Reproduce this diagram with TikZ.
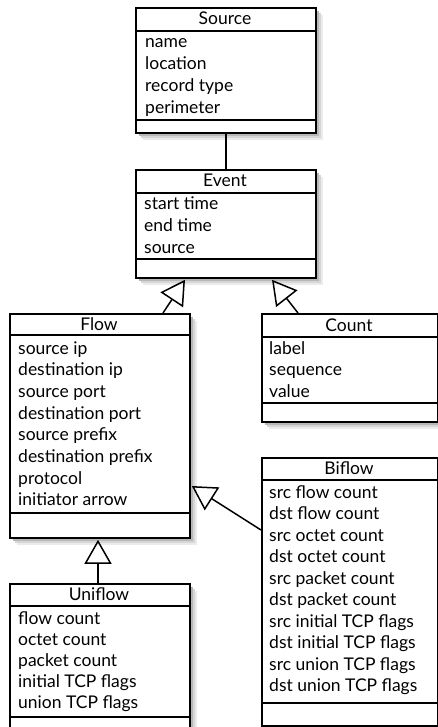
\documentclass[tikz,border=0pt]{standalone}
\usepackage{fontspec}
\setmainfont{Lato}
\usetikzlibrary{arrows.meta,calc}
\tikzset{
  umlbox/.style={draw=black, line width=1.8pt, fill=white, rectangle, anchor=north west, inner sep=0pt},
  sep/.style={line width=1.8pt},
  item/.style={anchor=base west, inner sep=0pt, font=\fontsize{17.5}{20}\selectfont},
  ttl/.style={anchor=base, inner sep=0pt, font=\fontsize{17.5}{20}\selectfont},
  inherit/.style={line width=1.5pt, -{Triangle[open, length=24pt, width=27pt, line width=1.5pt]}},
  assoc/.style={line width=1.5pt},
}
% shadow: x1, y1, x2, y2
\newcommand{\shadowbox}[4]{%
  \fill[black!8] (#1+8,#2+8) rectangle (#3+8,#4+8);
  \fill[black!16] (#1+6,#2+6) rectangle (#3+6,#4+6);
  \fill[black!28] (#1+4,#2+4) rectangle (#3+4,#4+4);
}
\begin{document}
\begin{tikzpicture}[x=1pt,y=-1pt]
\useasboundingbox (0,0) rectangle (438,727);

% ---------- Source ----------
\shadowbox{135}{7}{315}{132}
\node[umlbox, minimum width=180pt, minimum height=125pt] (source) at (135,7) {};
\draw[sep] (135,31) -- (315,31);
\draw[sep] (135,120) -- (315,120);
\node[ttl] (sourcet) at (225,25) {Source};
\foreach \t [count=\i] in {name,location,record type,perimeter}
  \node[item] (source\i) at (145,{48+21.7*(\i-1)}) {\t};

% ---------- Event ----------
\shadowbox{135}{169}{315}{277}
\node[umlbox, minimum width=180pt, minimum height=108pt] (event) at (135,169) {};
\draw[sep] (135,193) -- (315,193);
\draw[sep] (135,259) -- (315,259);
\node[ttl] (eventt) at (225,187) {Event};
\foreach \t [count=\i] in {start time,end time,source}
  \node[item] (event\i) at (144,{210+21.5*(\i-1)}) {\t};

% ---------- Flow ----------
\shadowbox{9}{313}{189}{537}
\node[umlbox, minimum width=180pt, minimum height=224pt] (flow) at (9,313) {};
\draw[sep] (9,335) -- (189,335);
\draw[sep] (9,513) -- (189,513);
\node[ttl] (flowt) at (99,330) {Flow};
\foreach \t [count=\i] in {source ip,destination ip,source port,destination port,source prefix,destination prefix,protocol,initiator arrow}
  \node[item] (flow\i) at (18,{354+21.7*(\i-1)}) {\t};

% ---------- Count ----------
\shadowbox{261}{313}{437}{421}
\node[umlbox, minimum width=176pt, minimum height=108pt] (count) at (261,313) {};
\draw[sep] (261,337) -- (437,337);
\draw[sep] (261,403) -- (437,403);
\node[ttl] (countt) at (349,331) {Count};
\foreach \t [count=\i] in {label,sequence,value}
  \node[item] (count\i) at (269,{354+21.7*(\i-1)}) {\t};

% ---------- Biflow ----------
\shadowbox{261}{457}{437}{725}
\node[umlbox, minimum width=176pt, minimum height=268pt] (biflow) at (261,457) {};
\draw[sep] (261,480) -- (437,480);
\draw[sep] (261,703) -- (437,703);
\node[ttl] (biflowt) at (349,474) {Biflow};
\foreach \t [count=\i] in {src flow count,dst flow count,src octet count,dst octet count,src packet count,dst packet count,src initial TCP flags,dst initial TCP flags,src union TCP flags,dst union TCP flags}
  \node[item] (biflow\i) at (269,{498+21.5*(\i-1)}) {\t};

% ---------- Uniflow ----------
\shadowbox{9}{583}{189}{740}
\node[umlbox, minimum width=180pt, minimum height=157pt] (uniflow) at (9,583) {};
\draw[sep] (9,606) -- (189,606);
\draw[sep] (9,717) -- (189,717);
\node[ttl] (uniflowt) at (99,600) {Uniflow};
\foreach \t [count=\i] in {flow count,octet count,packet count,initial TCP flags,union TCP flags}
  \node[item] (uniflow\i) at (18,{624+21*(\i-1)}) {\t};

% ---------- Connectors ----------
\draw[assoc] (source.south) -- (event.north);
\draw[inherit] ($(flow.north west)+(154,0)$) -- ($(event.south west)+(50,1)$);
\draw[inherit] ($(count.north west)+(37,0)$) -- ($(event.south west)+(137,1)$);
\draw[inherit] ($(uniflow.north west)+(89,0)$) -- ($(flow.south west)+(89,1)$);
\draw[inherit] ($(biflow.north west)+(0,73)$) -- ($(flow.north east)+(1,173)$);
\end{tikzpicture}
\end{document}
